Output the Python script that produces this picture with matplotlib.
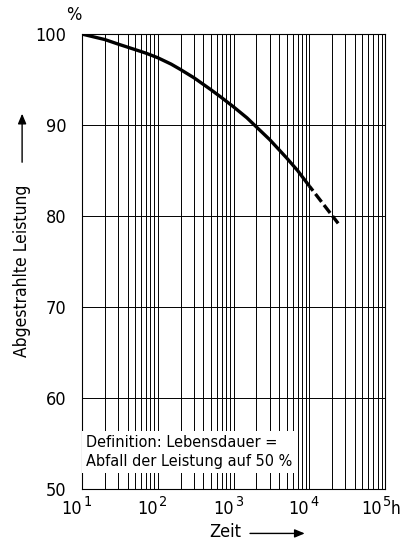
import matplotlib
matplotlib.use("Agg")
import matplotlib.pyplot as plt
from matplotlib import font_manager
from matplotlib.font_manager import FontProperties
from matplotlib.patches import FancyArrowPatch

# ── Daten ───────────────────────────────────────────────────────────────────
zeit_voll = [10, 20, 30, 50, 70, 100, 150, 200, 300, 500, 700,
             1000, 1500, 2000, 3000, 5000, 7000, 10000]
leist_voll = [100, 99.4, 98.9, 98.3, 97.9, 97.4, 96.7, 96.1, 95.2, 93.9, 93.0,
              92.0, 90.8, 89.8, 88.4, 86.4, 85.0, 83.3]
zeit_gestr = [10000, 24000]
leist_gestr = [83.3, 79.2]

x_ticks = [1e1, 1e2, 1e3, 1e4, 1e5]
x_exps = ["1", "2", "3", "4", "5"]
y_ticks = [50, 60, 70, 80, 90, 100]


# ── Schmale Schrift suchen ──────────────────────────────────────────────────
def schmale_schrift():
    for f in font_manager.fontManager.ttflist:
        fn = f.fname
        if ("Condensed" in fn or "Narrow" in fn) and not any(
                k in fn for k in ("Bold", "Oblique", "Italic", "Light",
                                  "Black", "Thin", "Medium", "Semi")):
            return FontProperties(fname=fn), True
    return FontProperties(family="DejaVu Sans"), False


fp, schmal = schmale_schrift()
GR = 13 if schmal else 11.5   # Grundgröße


def schrift(size):
    p = fp.copy()
    p.set_size(size)
    return p


fig = plt.figure(figsize=(4.02, 5.41), dpi=100)
ax = fig.add_axes([0.204, 0.096, 0.754, 0.841])

ax.set_xscale("log")
ax.set_xlim(10, 1e5)
ax.set_ylim(50, 100)

# Gitter
ax.grid(True, which="both", axis="x", color="black", linewidth=0.7)
ax.grid(True, which="major", axis="y", color="black", linewidth=0.7)
for s in ax.spines.values():
    s.set_linewidth(0.8)

ax.set_xticks(x_ticks)
ax.set_xticklabels([])
ax.set_yticks(y_ticks)
ax.set_yticklabels([str(v) for v in y_ticks], fontproperties=schrift(GR))
ax.tick_params(axis="both", which="both", length=0, pad=11)

# x-Beschriftung: 10 mit Exponent (letzte etwas nach links, Platz für "h")
trans = ax.get_xaxis_transform()
for i, (xt, ex) in enumerate(zip(x_ticks, x_exps)):
    f = 1 / 1.12 if i == len(x_ticks) - 1 else 1.0
    ax.text(xt * f, -0.025, "10", transform=trans, ha="right", va="top",
            fontproperties=schrift(GR), clip_on=False)
    ax.text(xt * f * 1.04, -0.012, ex, transform=trans, ha="left", va="top",
            fontproperties=schrift(GR * 0.8), clip_on=False)
ax.text(1e5 * 1.2, -0.025, "h", transform=trans, ha="left", va="top",
        fontproperties=schrift(GR * 0.95), clip_on=False)

# Kurve
ax.plot(zeit_voll, leist_voll, color="black", linewidth=2.4,
        solid_capstyle="butt", solid_joinstyle="round", zorder=5)
ax.plot(zeit_gestr, leist_gestr, color="black", linewidth=2.4,
        linestyle=(1.2, (3.0, 1.2)), dash_capstyle="butt", zorder=5)

# Textkasten
ax.text(11.2, 52.2,
        "Definition: Lebensdauer =\nAbfall der Leistung auf 50 %",
        fontproperties=schrift(11.6 if schmal else 10.5), ha="left",
        va="bottom", linespacing=1.3,
        bbox=dict(facecolor="white", edgecolor="none", pad=3), zorder=6)

# Achsenbeschriftungen
fig.text(0.183, 0.972, "%", fontproperties=schrift(GR), ha="center",
         va="center")
fig.text(0.055, 0.50, "Abgestrahlte Leistung", rotation=90,
         fontproperties=schrift(GR * 0.96), ha="center", va="center")
fig.patches.append(FancyArrowPatch(
    (0.055, 0.695), (0.055, 0.795), transform=fig.transFigure,
    arrowstyle="-|>,head_length=6,head_width=2.5", color="black",
    linewidth=1.0))

fig.text(0.56, 0.016, "Zeit", fontproperties=schrift(GR), ha="center",
         va="center")
fig.patches.append(FancyArrowPatch(
    (0.615, 0.014), (0.765, 0.014), transform=fig.transFigure,
    arrowstyle="-|>,head_length=6,head_width=2.5", color="black",
    linewidth=1.0))

fig.savefig("out.png", dpi=100)
